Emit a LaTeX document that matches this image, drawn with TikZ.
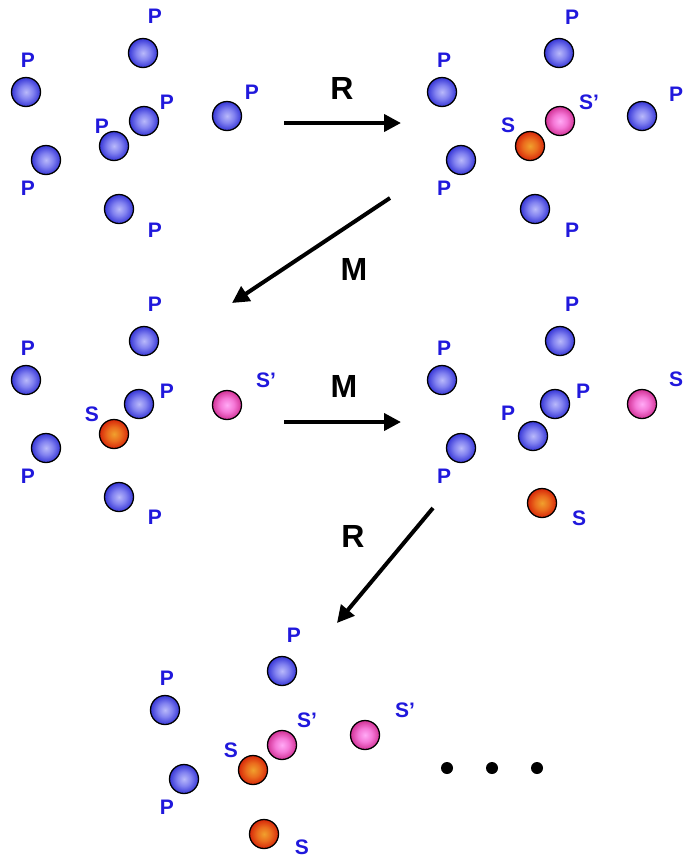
\documentclass[tikz,border=0pt]{standalone}
\usepackage{fontspec}
\setmainfont{Liberation Sans}
\usetikzlibrary{arrows.meta}
\definecolor{lblblue}{RGB}{32,24,220}
\definecolor{bbA}{RGB}{185,185,250}
\definecolor{bbB}{RGB}{130,130,240}
\definecolor{bbC}{RGB}{55,55,215}
\definecolor{boA}{RGB}{240,160,45}
\definecolor{boB}{RGB}{235,110,30}
\definecolor{boC}{RGB}{215,40,10}
\definecolor{bpA}{RGB}{255,170,245}
\definecolor{bpB}{RGB}{245,120,215}
\definecolor{bpC}{RGB}{210,50,150}
\pgfdeclareradialshading{shBlue}{\pgfpoint{0bp}{0bp}}{color(0bp)=(bbA); color(12bp)=(bbB); color(25bp)=(bbC); color(50bp)=(bbC)}
\pgfdeclareradialshading{shOrange}{\pgfpoint{0bp}{0bp}}{color(0bp)=(boA); color(12bp)=(boB); color(25bp)=(boC); color(50bp)=(boC)}
\pgfdeclareradialshading{shPink}{\pgfpoint{0bp}{0bp}}{color(0bp)=(bpA); color(12bp)=(bpB); color(25bp)=(bpC); color(50bp)=(bpC)}
\tikzset{
  ball/.style={circle, draw=black, line width=1.3pt, minimum size=29pt, inner sep=0pt},
  bP/.style={ball, shading=shBlue},
  bS/.style={ball, shading=shOrange},
  bT/.style={ball, shading=shPink},
  lbl/.style={text=lblblue, font=\fontsize{21}{21}\selectfont\bfseries, inner sep=0pt, text height=15pt, text depth=0pt},
  oplbl/.style={text=black, font=\fontsize{32}{32}\selectfont\bfseries, inner sep=0pt, text height=23pt, text depth=0pt},
  arr/.style={line width=4pt, -{Triangle[length=17pt,width=17pt]}, shorten >=0pt},
  dotc/.style={circle, fill=black, minimum size=12pt, inner sep=0pt}
}
\begin{document}
\begin{tikzpicture}[x=1pt,y=-1pt]
\useasboundingbox (0,0) rectangle (683,857);
% Panel 1
\node[bP] (a1) at (143,53) {}; \node[lbl] (la1) at (155,16) {P};
\node[bP] (a2) at (26,92) {}; \node[lbl] (la2) at (28,60) {P};
\node[bP] (a3) at (144,121) {}; \node[lbl] (la3) at (167,102) {P};
\node[bP] (a4) at (227,116) {}; \node[lbl] (la4) at (252,92) {P};
\node[bP] (a5) at (114,146) {}; \node[lbl] (la5) at (102,126) {P};
\node[bP] (a6) at (46,160) {}; \node[lbl] (la6) at (28,188) {P};
\node[bP] (a7) at (119,209) {}; \node[lbl] (la7) at (155,230) {P};
% Panel 2
\node[bP] (b1) at (559,53) {}; \node[lbl] (lb1) at (572,17) {P};
\node[bP] (b2) at (442,92) {}; \node[lbl] (lb2) at (444,60) {P};
\node[bT] (b3) at (560,121) {}; \node[lbl] (lb3) at (589,102) {S’};
\node[bP] (b4) at (642,116) {}; \node[lbl] (lb4) at (676,94) {P};
\node[bS] (b5) at (530,146) {}; \node[lbl] (lb5) at (508,125) {S};
\node[bP] (b6) at (461,160) {}; \node[lbl] (lb6) at (444,188) {P};
\node[bP] (b7) at (535,209) {}; \node[lbl] (lb7) at (572,230) {P};
% Panel 3
\node[bP] (c1) at (144,341) {}; \node[lbl] (lc1) at (155,304) {P};
\node[bP] (c2) at (26,380) {}; \node[lbl] (lc2) at (28,348) {P};
\node[bP] (c3) at (139,404) {}; \node[lbl] (lc3) at (167,391) {P};
\node[bS] (c4) at (114,434) {}; \node[lbl] (lc4) at (92,414) {S};
\node[bT] (c5) at (227,405) {}; \node[lbl] (lc5) at (266,380) {S’};
\node[bP] (c6) at (46,448) {}; \node[lbl] (lc6) at (28,476) {P};
\node[bP] (c7) at (119,497) {}; \node[lbl] (lc7) at (155,517) {P};
% Panel 4
\node[bP] (d1) at (560,341) {}; \node[lbl] (ld1) at (572,304) {P};
\node[bP] (d2) at (442,380) {}; \node[lbl] (ld2) at (444,348) {P};
\node[bP] (d3) at (555,404) {}; \node[lbl] (ld3) at (583,391) {P};
\node[bP] (d4) at (533,436) {}; \node[lbl] (ld4) at (508,413) {P};
\node[bT] (d5) at (642,404) {}; \node[lbl,anchor=west] (ld5) at (669,379) {S’};
\node[bP] (d6) at (461,448) {}; \node[lbl] (ld6) at (444,476) {P};
\node[bS] (d7) at (542,503) {}; \node[lbl] (ld7) at (579,518) {S};
% Panel 5
\node[bP] (e1) at (282,671) {}; \node[lbl] (le1) at (294,635) {P};
\node[bP] (e2) at (165,710) {}; \node[lbl] (le2) at (167,678) {P};
\node[bT] (e3) at (282,745) {}; \node[lbl] (le3) at (307,720) {S’};
\node[bT] (e4) at (365,735) {}; \node[lbl] (le4) at (405,710) {S’};
\node[bS] (e5) at (253,770) {}; \node[lbl] (le5) at (231,750) {S};
\node[bP] (e6) at (184,779) {}; \node[lbl] (le6) at (167,807) {P};
\node[bS] (e7) at (264,834) {}; \node[lbl] (le7) at (302,847) {S};
% dots
\node[dotc] (dt1) at (447,768) {};
\node[dotc] (dt2) at (492,768) {};
\node[dotc] (dt3) at (537,768) {};
% arrows
\coordinate (r1s) at (284,123); \coordinate (r1e) at (401,123);
\draw[arr] (r1s) -- (r1e);
\node[oplbl] (r1l) at (342,88) {R};
\coordinate (m1s) at (390,198); \coordinate (m1e) at (232,303);
\draw[arr] (m1s) -- (m1e);
\node[oplbl] (m1l) at (354,269) {M};
\coordinate (m2s) at (284,422); \coordinate (m2e) at (401,422);
\draw[arr] (m2s) -- (m2e);
\node[oplbl] (m2l) at (344,386) {M};
\coordinate (r2s) at (433,508); \coordinate (r2e) at (337,623);
\draw[arr] (r2s) -- (r2e);
\node[oplbl] (r2l) at (353,536) {R};
\end{tikzpicture}
\end{document}
